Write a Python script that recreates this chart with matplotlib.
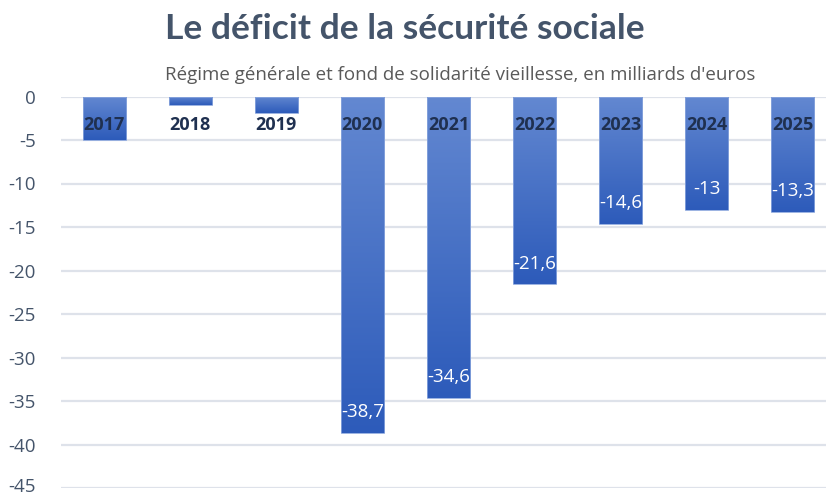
import matplotlib.pyplot as plt
import matplotlib.transforms as mtransforms
import numpy as np
from matplotlib.colors import LinearSegmentedColormap

years = ["2017", "2018", "2019", "2020", "2021", "2022", "2023", "2024", "2025"]
deficit = [-5.0, -1.0, -1.9, -38.7, -34.6, -21.6, -14.6, -13.0, -13.3]
labelled = [False, False, False, True, True, True, True, True, True]
yticks = [0, -5, -10, -15, -20, -25, -30, -35, -40, -45]


def fr(v):
    s = f"{v:.1f}".replace(".", ",")
    return s[:-2] if s.endswith(",0") else s


fig = plt.figure(figsize=(8.26, 4.96), dpi=100)
ax = fig.add_axes([61 / 826, 1 - 488 / 496, 775 / 826, 391.5 / 496])
x = np.arange(len(years))
ax.set_xlim(-0.5, len(years) - 0.5)
ax.set_ylim(-45, 0)

# vertical gradient inside each bar, clipped to the bar rectangle
cmap = LinearSegmentedColormap.from_list("bleu", ["#6388D1", "#2D5BBA"])
grad = np.linspace(0, 1, 256).reshape(-1, 1)
bars = ax.bar(x, deficit, width=0.5, color="none", edgecolor="#8AA6DD", linewidth=0.6, zorder=3)
for b in bars:
    x0, w, h = b.get_x(), b.get_width(), b.get_height()
    im = ax.imshow(grad, cmap=cmap, aspect="auto", extent=(x0, x0 + w, h, 0),
                   origin="upper", zorder=2)
    im.set_clip_path(b)

ax.set_yticks(yticks)
ax.set_yticklabels([str(t) for t in yticks], fontsize=13.5, color="#44546A", family="Open Sans")
ax.set_xticks([])
ax.tick_params(axis="y", length=0, pad=18)
ax.grid(axis="y", color="#DEE2EA", linewidth=1.6, zorder=0)
ax.set_axisbelow(True)
for sp in ax.spines.values():
    sp.set_visible(False)
# lowest label sits on the figure edge, lift it a touch
last = ax.get_yticklabels()[-1]
last.set_transform(last.get_transform() + mtransforms.ScaledTranslation(0, 3 / 100, fig.dpi_scale_trans))

for xi, yr in zip(x, years):
    ax.annotate(yr, (xi, 0), xytext=(0, -20.5), textcoords="offset points",
                ha="center", va="center", fontsize=13, fontweight="bold",
                color="#1F3050", family="Open Sans", zorder=5)

for xi, v, show in zip(x, deficit, labelled):
    if show:
        ax.annotate(fr(v), (xi, v), xytext=(0, 15), textcoords="offset points",
                    ha="center", va="center", fontsize=13.5, color="white",
                    family="Open Sans", zorder=5)

fig.text(165 / 826, 1 - 29 / 496, "Le déficit de la sécurité sociale", ha="left", va="center",
         fontsize=25.5, fontweight="bold", color="#44546A", family="Lato")
fig.text(165 / 826, 1 - 75 / 496, "Régime générale et fond de solidarité vieillesse, en milliards d'euros",
         ha="left", va="center", fontsize=13.5, color="#595959", family="Open Sans")

fig.savefig("out.png", dpi=100)
